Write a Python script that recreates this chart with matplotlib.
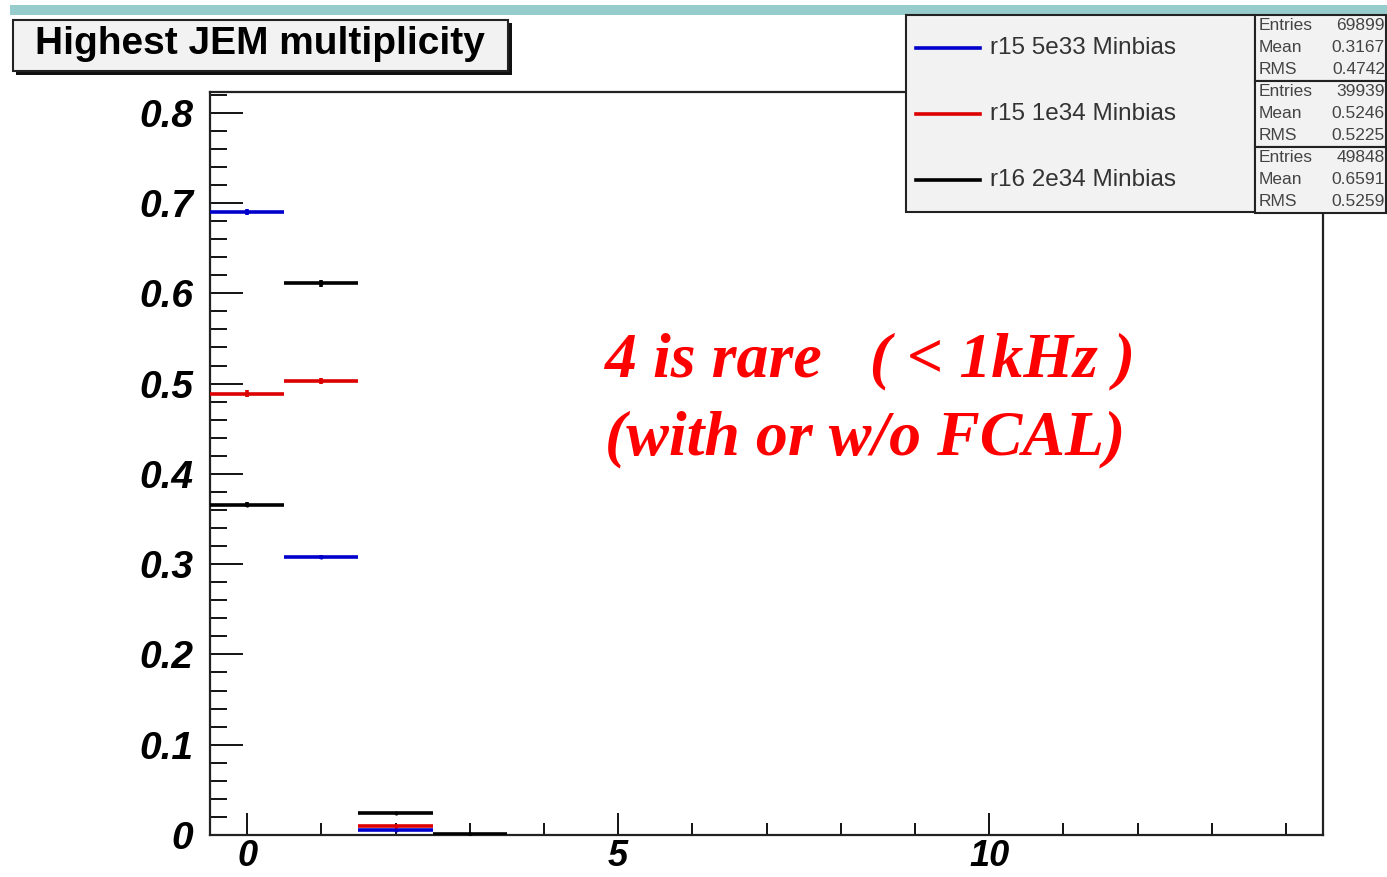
import numpy as np
import matplotlib
matplotlib.use("Agg")
import matplotlib.pyplot as plt
from matplotlib.patches import Rectangle
from matplotlib.ticker import MultipleLocator

# ---- data ----
bins = [0, 1, 2, 3]
labels = ["r15 5e33 Minbias", "r15 1e34 Minbias", "r16 2e34 Minbias"]
colors = ["#0000cc", "#dd0000", "#000000"]
blue = [0.690, 0.308, 0.005, 0.0]
red = [0.489, 0.503, 0.010, 0.0]
black = [0.366, 0.611, 0.024, 0.001]
entries = [69899, 39939, 49848]
means = [0.3167, 0.5246, 0.6591]
rms = [0.4742, 0.5225, 0.5259]
series = [blue, red, black]

W, H = 1387, 877
fig = plt.figure(figsize=(W / 100, H / 100), dpi=100)
fig.patch.set_facecolor("white")

def fx(px): return px / W
def fy(py): return 1 - py / H

ax = fig.add_axes([fx(210), fy(835), fx(1323) - fx(210), fy(92) - fy(835)])
for vals, c, n in zip(series, colors, entries):
    xs = [b for b, v in zip(bins, vals) if v > 0]
    ys = [v for v in vals if v > 0]
    err = [np.sqrt(v * n) / n for v in ys]
    ax.errorbar(xs, ys, xerr=0.5, yerr=err, fmt=".", color=c, ms=4,
                elinewidth=2.6, capsize=0, zorder=3)

ax.set_xlim(-0.5, 14.5)
ax.set_ylim(0, 0.823)
ax.xaxis.set_major_locator(MultipleLocator(5))
ax.xaxis.set_minor_locator(MultipleLocator(1))
ax.yaxis.set_major_locator(MultipleLocator(0.1))
ax.yaxis.set_minor_locator(MultipleLocator(0.02))
ax.tick_params(direction="in", which="both", width=1.3)
ax.tick_params(axis="y", which="major", length=24, pad=12)
ax.tick_params(axis="y", which="minor", length=12)
ax.tick_params(axis="x", which="major", length=16, pad=3)
ax.tick_params(axis="x", which="minor", length=8.5)
ax.tick_params(top=False, right=False, which="both")
for s in ax.spines.values():
    s.set_linewidth(1.6)
    s.set_color("#222222")
ax.set_yticks([0, 0.1, 0.2, 0.3, 0.4, 0.5, 0.6, 0.7, 0.8])
ax.set_yticklabels(["0", "0.1", "0.2", "0.3", "0.4", "0.5", "0.6", "0.7", "0.8"])
for lab in ax.get_yticklabels():
    lab.set_fontsize(28)
for lab in ax.get_xticklabels():
    lab.set_fontsize(26)
for lab in ax.get_xticklabels() + ax.get_yticklabels():
    lab.set_fontfamily("Liberation Sans")
    lab.set_fontweight("bold")
    lab.set_fontstyle("italic")

# red annotation
ax.text(0.355, 0.637, "4 is rare   ( < 1kHz )", transform=ax.transAxes,
        color="#ff0000", fontsize=46, fontfamily="Liberation Serif",
        fontweight="bold", fontstyle="italic", va="center", ha="left")
ax.text(0.355, 0.532, "(with or w/o FCAL)", transform=ax.transAxes,
        color="#ff0000", fontsize=46, fontfamily="Liberation Serif",
        fontweight="bold", fontstyle="italic", va="center", ha="left")

# teal bar on top
fig.patches.append(Rectangle((fx(10), fy(15)), fx(1387) - fx(10), fy(5) - fy(15),
                             transform=fig.transFigure, facecolor="#96cccc",
                             edgecolor="none"))

# title box with shadow
fig.patches.append(Rectangle((fx(16), fy(75)), fx(512) - fx(16), fy(23) - fy(75),
                             transform=fig.transFigure, facecolor="#111111",
                             edgecolor="none"))
fig.patches.append(Rectangle((fx(13), fy(71)), fx(508) - fx(13), fy(20) - fy(71),
                             transform=fig.transFigure, facecolor="#f2f2f2",
                             edgecolor="#222222", lw=1.5))
fig.text(fx(260), fy(44), "Highest JEM multiplicity", ha="center", va="center",
         fontsize=28, fontweight="bold", fontfamily="Liberation Sans")

# legend box
fig.patches.append(Rectangle((fx(906), fy(212)), fx(1255) - fx(906), fy(15) - fy(212),
                             transform=fig.transFigure, facecolor="#f2f2f2",
                             edgecolor="#222222", lw=1.5, zorder=5))
leg_y = [48, 114, 180]
for lab, c, yy in zip(labels, colors, leg_y):
    fig.lines.append(plt.Line2D([fx(916), fx(980)], [fy(yy), fy(yy)],
                                transform=fig.transFigure, color=c, lw=2.6, zorder=6))
    fig.text(fx(990), fy(yy), lab, ha="left", va="center", fontsize=17.5,
             fontfamily="Liberation Sans", color="#333333", zorder=6)

# stats boxes
for i, (n, m, r) in enumerate(zip(entries, means, rms)):
    top = 15 + i * 66
    fig.patches.append(Rectangle((fx(1255), fy(top + 66)), fx(1386) - fx(1255), fy(top) - fy(top + 66),
                                 transform=fig.transFigure, facecolor="#f2f2f2",
                                 edgecolor="#222222", lw=1.5, zorder=5))
    for j, (k, v) in enumerate([("Entries", f"{n}"), ("Mean", f"{m:.4f}"), ("RMS", f"{r:.4f}")]):
        yy = top + 11 + j * 22
        fig.text(fx(1259), fy(yy), k, ha="left", va="center", fontsize=12.5,
                 fontfamily="Liberation Sans", color="#444444", zorder=6)
        fig.text(fx(1385), fy(yy), v, ha="right", va="center", fontsize=12.5,
                 fontfamily="Liberation Sans", color="#444444", zorder=6)

fig.savefig("out.png", dpi=100)
